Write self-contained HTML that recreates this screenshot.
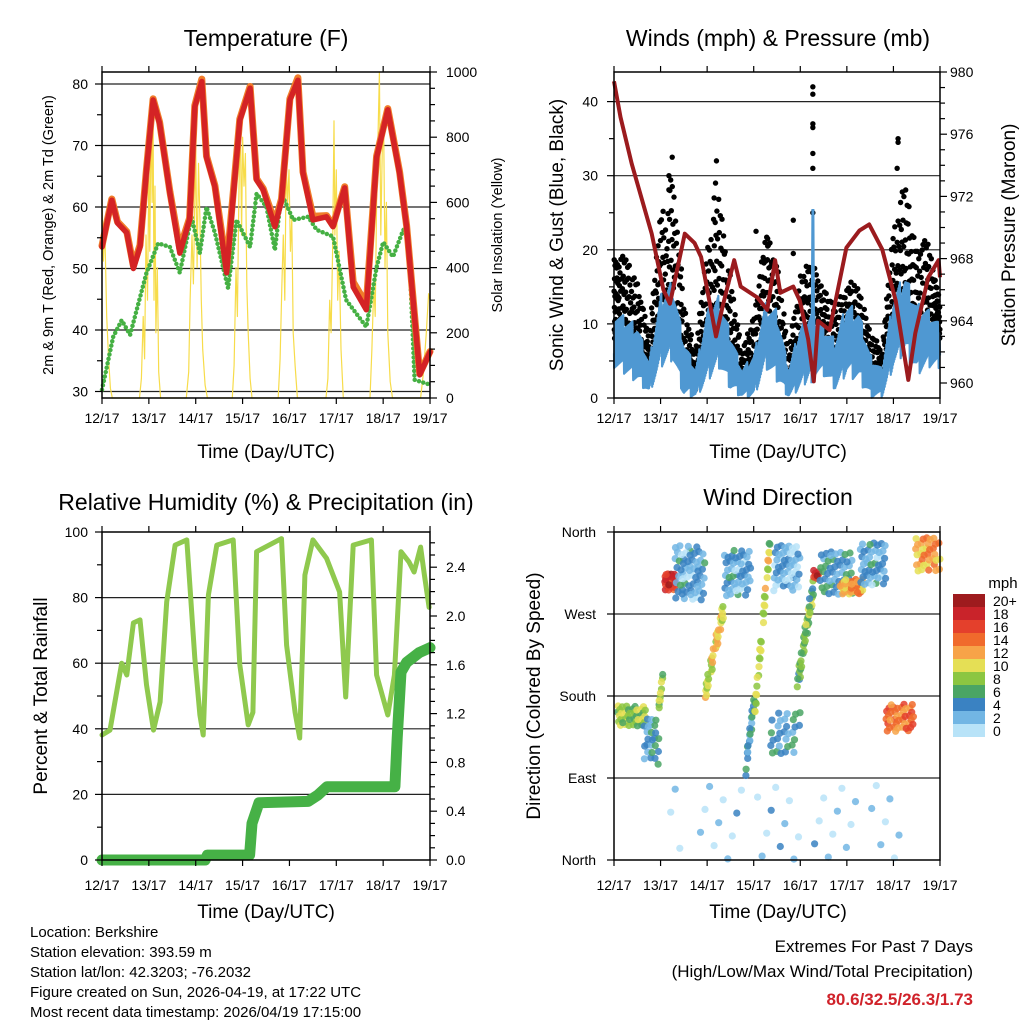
<!DOCTYPE html>
<html><head><meta charset="utf-8"><style>
html,body{margin:0;padding:0;background:#fff;}
svg{display:block;font-family:"Liberation Sans",sans-serif;}
</style></head><body>
<svg id="root" width="1024" height="1024" viewBox="0 0 1024 1024" xmlns="http://www.w3.org/2000/svg">
<rect x="0" y="0" width="1024" height="1024" fill="#fff"/>
<g id="g1"></g>
<g id="g2"></g>
<g id="g3"></g>
<g id="g4"></g>
<g id="gt"></g>
<text x="266" y="46" font-size="23" text-anchor="middle">Temperature (F)</text>
<text x="778" y="46" font-size="23" text-anchor="middle">Winds (mph) &amp; Pressure (mb)</text>
<text x="266" y="510" font-size="23" text-anchor="middle">Relative Humidity (%) &amp; Precipitation (in)</text>
<text x="778" y="505" font-size="23" text-anchor="middle">Wind Direction</text>
<text x="266" y="458" font-size="19" text-anchor="middle">Time (Day/UTC)</text>
<text x="778" y="458" font-size="19" text-anchor="middle">Time (Day/UTC)</text>
<text x="266" y="918" font-size="19" text-anchor="middle">Time (Day/UTC)</text>
<text x="778" y="918" font-size="19" text-anchor="middle">Time (Day/UTC)</text>
<text transform="translate(53,235) rotate(-90)" font-size="14.5" text-anchor="middle">2m &amp; 9m T (Red, Orange) &amp; 2m Td (Green)</text>
<text transform="translate(502,235) rotate(-90)" font-size="14.5" text-anchor="middle">Solar Insolation (Yellow)</text>
<text transform="translate(563,235) rotate(-90)" font-size="19" text-anchor="middle">Sonic Wind &amp; Gust (Blue, Black)</text>
<text transform="translate(1015,235) rotate(-90)" font-size="19" text-anchor="middle">Station Pressure (Maroon)</text>
<text transform="translate(47,696) rotate(-90)" font-size="19" text-anchor="middle">Percent &amp; Total Rainfall</text>
<text transform="translate(540,696) rotate(-90)" font-size="19" text-anchor="middle">Direction (Colored By Speed)</text>
<g font-size="15">
<text x="30" y="937">Location: Berkshire</text>
<text x="30" y="957">Station elevation: 393.59 m</text>
<text x="30" y="977">Station lat/lon: 42.3203; -76.2032</text>
<text x="30" y="997">Figure created on Sun, 2026-04-19, at 17:22 UTC</text>
<text x="30" y="1017">Most recent data timestamp: 2026/04/19 17:15:00</text>
</g>
<text x="973" y="952" font-size="17" text-anchor="end">Extremes For Past 7 Days</text>
<text x="973" y="977" font-size="17" text-anchor="end">(High/Low/Max Wind/Total Precipitation)</text>
<text x="973" y="1005" font-size="17" font-weight="bold" fill="#d0222a" text-anchor="end">80.6/32.5/26.3/1.73</text>
<g id="cbar"></g>
</svg>
<script>
// ---------- data ----------
const dayLabels = ["12/17","13/17","14/17","15/17","16/17","17/17","18/17","19/17"];
const tempTimes = [0,.21,.33,.53,.67,.81,.95,1.09,1.23,1.45,1.66,1.87,1.98,2.13,2.23,2.41,2.66,2.94,3.16,3.3,3.44,3.69,3.83,4.01,4.18,4.29,4.5,4.79,4.93,5.18,5.36,5.64,5.86,6.1,6.35,6.5,6.78,7];
const temp2m = [53.5,61.1,57.4,55.8,50,53.5,66,77.4,73.6,62.3,52.5,58,76.3,80.4,68.1,63.3,49.3,74.1,79.3,64.4,62.8,56.8,61.1,77.4,80.6,65.5,57.9,58.4,56.8,63.1,47,43.3,68.1,75.8,65.5,56.8,32.7,36.4];
const temp9m = [53.7,61.3,57.6,56,50.4,53.8,66.2,77.6,73.8,62.5,53.2,58.2,76.5,80.8,68.3,63.5,50.2,74.3,79.6,64.6,63,57.5,61.3,77.6,81,65.7,58.5,58.6,57,63.3,47.8,44.2,68.3,76,65.7,57,32.9,36.5];
const dewTimes = [0,.24,.42,.6,.95,1.2,1.45,1.66,1.91,2.09,2.23,2.41,2.69,2.87,3.16,3.3,3.51,3.69,3.83,4.08,4.4,4.58,4.93,5.21,5.64,5.86,6.0,6.21,6.43,6.54,6.67,7];
const dewPoint = [30.3,38.9,41.6,39.2,49.3,54.1,53.5,49.3,58.4,52.5,60,55.8,46.8,57.9,53.5,62.2,60,53,62.2,57.9,58.4,56.3,55.2,44.9,40.5,50.2,54.3,51.9,56.3,55.8,31.9,31.1];
const solarTimes = [0,.03,.06,.1,.14,.18,.22, .8,.84,.88,.91,.94,.97,1.0,1.02,1.05,1.07,1.09,1.11,1.13,1.15,1.18,1.21,1.25, 1.8,1.85,1.88,1.92,1.95,1.98,2.0,2.03,2.06,2.09,2.12,2.15,2.2,2.25, 2.78,2.82,2.86,2.89,2.92,2.95,2.98,3.0,3.03,3.06,3.09,3.12,3.16,3.2, 3.76,3.8,3.84,3.87,3.9,3.93,3.96,3.99,4.02,4.05,4.08,4.12,4.17, 4.78,4.82,4.86,4.89,4.92,4.95,4.97,5.0,5.03,5.06,5.1,5.15, 5.72,5.76,5.8,5.83,5.86,5.89,5.92,5.95,5.98,6.01,6.04,6.07,6.1,6.15,6.2, 6.8,6.86,6.92,6.97,7.0];
const solarValues = [610,420,520,250,120,30,0, 0,60,250,120,500,300,700,450,920,600,850,300,650,200,400,80,0, 0,80,300,500,350,600,780,400,720,550,300,150,40,0, 0,100,400,250,600,880,500,800,650,750,350,200,60,0, 0,120,350,500,300,720,600,700,450,550,200,100,0, 0,60,300,200,450,850,500,700,300,450,150,0, 0,150,350,250,600,800,1000,500,750,850,400,600,200,50,0, 0,80,200,320,300];

const pressTimes = [0,.14,.38,.81,1.06,1.2,1.52,1.73,1.87,2.19,2.33,2.58,2.72,3.08,3.29,3.46,3.57,3.85,3.99,4.17,4.29,4.38,4.63,4.99,5.27,5.48,5.76,6.05,6.32,6.47,6.75,6.97,7];
const pressure = [979.4,977.1,974.1,969.6,966,965.1,969.6,969,968.1,963,964.9,967.9,966.2,965.5,964.7,967.9,965.8,966.2,965.3,962.8,960.1,964,963.4,968.7,969.8,970.2,968.6,965.3,960.2,963.2,966.8,967.9,966.8];
const windBinTimes = [0,.25,.5,.75,1,1.25,1.5,1.75,2,2.25,2.5,2.75,3,3.25,3.5,3.75,4,4.25,4.5,4.75,5,5.25,5.5,5.75,6,6.25,6.5,6.75,7];
const gustHigh = [20,19,17,8,27,30,14,6,22,27,18,6,12,22,20,6,18,18,16,12,16,15,10,6,25,29,22,21,14];
const gustLow  = [8,7,6,3,10,10,2,1,6,8,4,1,2,9,5,1,3,8,7,3,6,5,2,1,9,10,6,8,8];
const windHigh = [12,11,10,5,14,16,8,4,12,14,9,4,6,13,12,4,10,12,10,8,13,12,6,4,14,17,13,12,10];
const windLow  = [4,3,2,0.5,4,5,0,0,2,4,1,0,0,4,2,0,1,3,3,1,3,2,0,0,4,6,3,4,4];
const gustOutT = [4.27,4.27,4.27,4.27,4.27,4.27,4.27,1.25,1.18,2.2,2.18,3.05,3.3,3.3,6.1,6.1,6.08,3.85,3.85,1.2,2.15];
const gustOutV = [42,41,37,36.5,33,31,25,32.5,30,32,29,22.5,20.5,21.5,35,34.5,31,24,19.5,28,27];
const windSpikeT = [4.25,4.27,4.29];
const windSpikeV = [2,25.5,3];

const rhTimes = [0,.17,.42,.53,.67,.81,.95,1.1,1.24,1.38,1.56,1.81,1.98,2.09,2.16,2.27,2.45,2.8,2.94,3.12,3.22,3.3,3.83,3.94,4.12,4.22,4.33,4.5,4.79,5.07,5.2,5.36,5.75,5.86,6.1,6.24,6.38,6.55,6.66,6.8,6.88,6.98];
const rhValues = [38.1,39.6,60,56.4,72.3,73.2,53.4,39.6,48.2,78.7,96,97.6,61.6,44.2,38.1,80.8,96,97.6,59.5,41.2,45,94,98,65.5,45,37.2,86.9,97.6,92,81.7,49.7,96,97.6,56.4,44.2,56.4,94,90.9,87.8,95.4,86.9,77];
const rainTimes = [0,2.2,2.25,3.15,3.2,3.35,4.4,4.6,4.8,6.25,6.3,6.38,6.5,6.77,7];
const rainValues = [0,0,0.04,0.04,0.3,0.47,0.48,0.53,0.6,0.6,1.0,1.54,1.62,1.7,1.74];

// wind-direction clusters
const clusterStart = [0.07,0.64,0.96,1.06,1.31,1.95,2.37,2.83,3.0,3.43,3.36,3.93,4.28,4.42,4.85,5.27,5.84,6.47,1.2];
const clusterEnd   = [0.71,0.96,1.06,1.31,1.95,2.37,2.94,3.0,3.36,4.0,4.0,4.28,4.42,5.13,5.34,5.84,6.47,7.0,6.2];
const clusterDirStart = [159,130,165,305,315,180,315,100,150,320,140,190,313,315,300,325,156,335,45];
const clusterDirEnd   = [159,130,210,305,315,280,315,170,355,320,140,300,313,315,300,325,156,335,45];
const clusterSpread = [12,25,6,10,30,10,25,10,10,25,25,12,5,25,8,25,15,20,45];
const clusterSpeed  = [8,4,9,17,3,10,3,4,9,2,4,7,17,4,12,3,14,12,1];
const clusterCount  = [40,25,10,25,60,35,50,20,35,50,30,40,8,50,40,45,40,35,40];
const speedLabels = ["20+","18","16","14","12","10","8","6","4","2","0"];
const speedColors = ["#9e1b1e","#c9232a","#e4402c","#f06a2c","#f7a348","#e5df55","#8cc641","#4aa564","#3a82c2","#72b6e4","#b8e3f8"];

// ---------- scales ----------
const x1 = t => 102 + t*46.86;
const yT = v => 84 + (80-v)*6.15;
const yS = v => 398 - v*0.326;
const x2 = t => 614 + t*46.57;
const yW = v => 398 - v*7.41;
const yP = p => 72 + (980-p)*15.55;
const yR = v => 860 - v*3.28;
const yRain = v => 860 - v*122;
const yD = d => 860 - d*328/360;
const NS = "http://www.w3.org/2000/svg";
function mk(tag, attrs, parent){ const e=document.createElementNS(NS,tag); for(const k in attrs) e.setAttribute(k,attrs[k]); parent.appendChild(e); return e; }
const g1=document.getElementById('g1'), g2=document.getElementById('g2'), g3=document.getElementById('g3'), g4=document.getElementById('g4'), gt=document.getElementById('gt');
const pts = (ts,vs,fx,fy) => ts.map((t,i)=>fx(t).toFixed(1)+','+fy(vs[i]).toFixed(1)).join(' ');
const frac = n => n - Math.floor(n);
const A1 = 0.7548776662, A2 = 0.5698402910, A3 = 0.3819660113;

// ---------- panel 1 ----------
for(let v=30; v<=80; v+=10){
  const l = mk('line',{x1:102,x2:430,y1:yT(v),y2:yT(v),stroke:'#222','stroke-width':1.2},g1);
  
  
}
let e;
e = mk('polyline',{points:pts(solarTimes,solarValues,x1,yS),fill:'none',stroke:'#f7dc4a','stroke-width':1.2,'stroke-linejoin':'round'},g1);


e = mk('polyline',{points:pts(dewTimes,dewPoint,x1,yT),fill:'none',stroke:'#45b043','stroke-width':4.5,'stroke-dasharray':'0 4.5','stroke-linecap':'round','stroke-linejoin':'round'},g1);


e = mk('polyline',{points:pts(tempTimes,temp9m,x1,yT),fill:'none',stroke:'#f07d2a','stroke-width':7,'stroke-linejoin':'round','stroke-linecap':'round'},g1);


e = mk('polyline',{points:pts(tempTimes,temp2m,x1,yT),fill:'none',stroke:'#d42325','stroke-width':5.5,'stroke-linejoin':'round','stroke-linecap':'round'},g1);



// ---------- panel 2 ----------
for(let v=10; v<=40; v+=10){
  const l = mk('line',{x1:614,x2:940,y1:yW(v),y2:yW(v),stroke:'#222','stroke-width':1.2},g2);
  
  
}
const interp=(ts,vs,t)=>{ for(let i=0;i<ts.length-1;i++){ if(t<=ts[i+1]){ const f=(t-ts[i])/(ts[i+1]-ts[i]); return vs[i]+f*(vs[i+1]-vs[i]); } } return vs[vs.length-1]; };
// gust dots
let n=0;
for(let i=0;i<windBinTimes.length;i++){
  const t0 = Math.max(0, windBinTimes[i]-0.125), t1 = Math.min(7, windBinTimes[i]+0.125);
  for(let k=0;k<45;k++){
    n++;
    const t = t0 + frac(0.5+n*A1)*(t1-t0);
    const lo = interp(windBinTimes,gustLow,t), hi = interp(windBinTimes,gustHigh,t);
    const v = lo + Math.pow(frac(0.5+n*A2),1.4)*(hi-lo);
    const c = mk('circle',{cx:x2(t).toFixed(1),cy:yW(v).toFixed(1),r:2.7,fill:'#000'},g2);
    
    
  }
}
for(let i=0;i<gustOutT.length;i++){
  const c = mk('circle',{cx:x2(gustOutT[i]),cy:yW(gustOutV[i]),r:2.7,fill:'#000'},g2);
  
  
}
// blue wind band
let bp=[]; let m=0;
for(let t=0;t<=7.0001;t+=0.004){
  m++;
  const lo = interp(windBinTimes,windLow,t), hi = interp(windBinTimes,windHigh,t);
  const v = lo + frac(0.5+m*A1)*(hi-lo);
  bp.push(x2(t).toFixed(1)+','+yW(v).toFixed(1));
}
e = mk('polyline',{points:bp.join(' '),fill:'none',stroke:'#4f98d2','stroke-width':2.2,'stroke-linejoin':'round'},g2);


e = mk('polyline',{points:pts(windSpikeT,windSpikeV,x2,yW),fill:'none',stroke:'#4f98d2','stroke-width':3},g2);


e = mk('polyline',{points:pts(pressTimes,pressure,x2,yP),fill:'none',stroke:'#9b1b1e','stroke-width':4,'stroke-linejoin':'round'},g2);



// ---------- panel 3 ----------
for(let v=20; v<=80; v+=20){
  const l = mk('line',{x1:102,x2:430,y1:yR(v),y2:yR(v),stroke:'#222','stroke-width':1.2},g3);
  
  
}
e = mk('polyline',{points:pts(rhTimes,rhValues,x1,yR),fill:'none',stroke:'#8fc94e','stroke-width':5,'stroke-linejoin':'round','stroke-linecap':'round'},g3);


e = mk('polyline',{points:pts(rainTimes,rainValues,x1,yRain),fill:'none',stroke:'#46b146','stroke-width':11,'stroke-linejoin':'round','stroke-linecap':'round'},g3);



// ---------- panel 4 ----------
[90,180,270].forEach(d=>{
  const l = mk('line',{x1:614,x2:940,y1:yD(d),y2:yD(d),stroke:'#222','stroke-width':1.2},g4);
  
  
});
let q=0;
for(let c=0;c<clusterStart.length;c++){
  for(let k=0;k<clusterCount[c];k++){
    q++;
    const f = frac(0.5+q*A1);
    const t = clusterStart[c] + f*(clusterEnd[c]-clusterStart[c]);
    let d = clusterDirStart[c] + f*(clusterDirEnd[c]-clusterDirStart[c]) + (frac(0.5+q*A2)*2-1)*clusterSpread[c];
    d = Math.max(1, Math.min(359, d));
    let s = clusterSpeed[c] + (frac(0.5+q*A3)*2-1)*2.5;
    s = Math.max(0, s);
    const idx = 10 - Math.min(10, Math.round(s/2));
    const p = mk('circle',{cx:x2(t).toFixed(1),cy:yD(d).toFixed(1),r:3.6,fill:speedColors[idx],'fill-opacity':0.85},g4);
    
    
  }
}
// colorbar
const cb=document.getElementById('cbar');
e = mk('text',{x:1003,y:588,'font-size':15,'text-anchor':'middle'},cb);
e.textContent='mph';


for(let i=0;i<speedLabels.length;i++){
  const r = mk('rect',{x:953,y:594+i*13,width:32,height:13,fill:speedColors[i]},cb);
  
  
  const tx = mk('text',{x:993,y:606+i*13,'font-size':14},cb);
  tx.textContent = speedLabels[i];
  
  
}

// ---------- axes / frames / ticks ----------
function frame(x0,y0,x1_,y1_,name){
  const r = mk('rect',{x:x0,y:y0,width:x1_-x0,height:y1_-y0,fill:'none',stroke:'#000','stroke-width':1.5},gt);
  
  
}
function tick(xa,ya,xb,yb){
  const l = mk('line',{x1:xa,y1:ya,x2:xb,y2:yb,stroke:'#000','stroke-width':1.2},gt);
  
  
}
function label(x,y,txt,anchor,size){
  const t = mk('text',{x:x,y:y,'text-anchor':anchor,'font-size':size||14},gt);
  t.textContent = txt;
  
  
}
frame(102,72,430,398,'temperature-plot-frame');
frame(614,72,940,398,'wind-plot-frame');
frame(102,532,430,860,'humidity-plot-frame');
frame(614,532,940,860,'direction-plot-frame');
// x ticks all panels
for(let d=0; d<=7; d++){
  [[x1,72,398,423],[x2,72,398,423],[x1,532,860,890],[x2,532,860,890]].forEach(([fx,top,bot,ly])=>{
    const x=fx(d);
    tick(x,top,x,top-6); tick(x,bot,x,bot+6);
    label(x,ly,dayLabels[d],'middle',14);
  });
}
// panel1 left
for(let v=30; v<=80; v+=5){ tick(102,yT(v),v%10?97:95,yT(v)); if(v%10===0) label(88,yT(v)+5,String(v),'end'); }
for(let v=0; v<=1000; v+=50){ tick(430,yS(v),v%200?435:437,yS(v)); if(v%200===0) label(446,yS(v)+5,String(v),'start'); }
// panel2
for(let v=0; v<=44; v+=5){ tick(614,yW(v),v%10?609:607,yW(v)); if(v%10===0) label(598,yW(v)+5,String(v),'end'); }
for(let p=960; p<=980; p+=1){ tick(940,yP(p),p%4?945:947,yP(p)); if(p%4===0) label(950,yP(p)+5,String(p),'start'); }
// panel3
for(let v=0; v<=100; v+=10){ tick(102,yR(v),v%20?97:95,yR(v)); if(v%20===0) label(88,yR(v)+5,String(v),'end'); }
for(let k=0; k<=26; k++){ const v=k/10; tick(430,yRain(v),k%4?435:437,yRain(v)); if(k%4===0) label(446,yRain(v)+5,v.toFixed(1),'start'); }
// panel4
["North","East","South","West","North"].forEach((s,i)=>{ const y=yD(i*90); tick(614,y,607,y); label(596,y+5,s,'end'); });
</script>
</body></html>
